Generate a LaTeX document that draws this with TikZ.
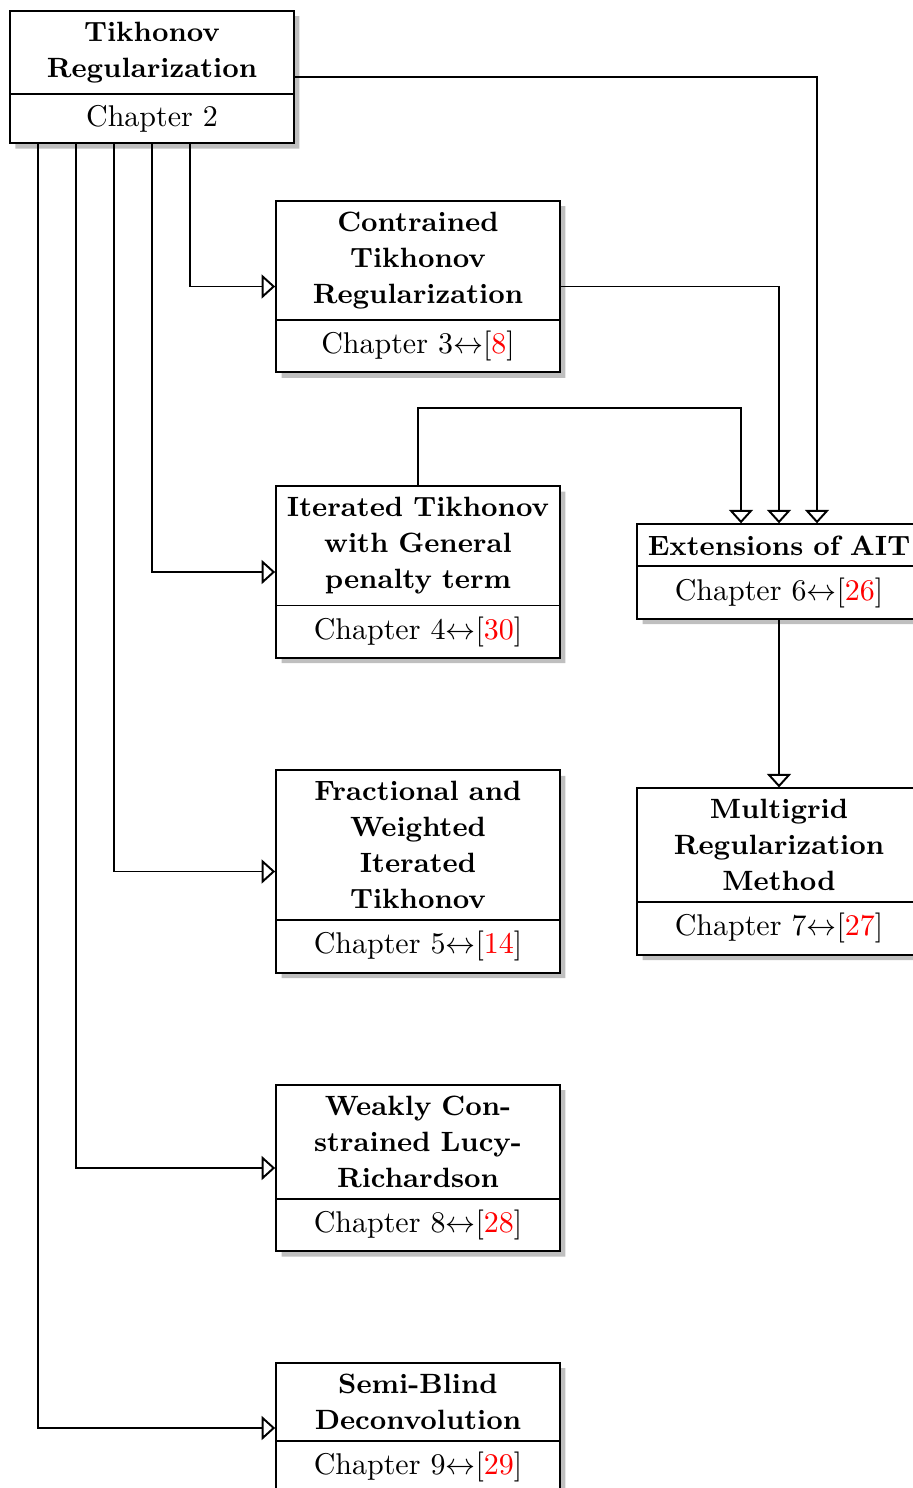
\documentclass[tikz,border=0pt]{standalone}
\usetikzlibrary{shapes.multipart,shadows,arrows.meta,calc}
\tikzset{
  chapbox/.style={rectangle split, rectangle split parts=2, draw, line width=0.65pt,
    fill=white, text width=90.6pt, align=center, inner xsep=2pt, inner ysep=3.4pt,
    drop shadow={shadow xshift=1.8pt, shadow yshift=-1.8pt, fill=black!25, opacity=1}},
  arr/.style={line width=0.65pt, -{Triangle[open, length=4.5pt, width=8pt]}},
}
\newcommand{\rc}[1]{$\leftrightarrow$[\textcolor{red}{#1}]}
\newcommand{\hd}{\fontsize{9.3}{12}\selectfont\bfseries}
\begin{document}
\begin{tikzpicture}[x={(0.33333pt,0)}, y={(0,-0.33333pt)}]
\useasboundingbox (0,0) rectangle (913,1488);
\clip (0,0) rectangle (913,1488);
\node[chapbox] (T) at (152,77) {\hd Tikhonov\\Regularization \nodepart{two} Chapter 2};
\node[chapbox] (C) at (418,286.5) {\hd Contrained\\Tikhonov\\Regularization \nodepart{two} Chapter 3\rc{8}};
\node[chapbox] (I) at (418,572) {\hd \mbox{Iterated Tikhonov}\\with General\\penalty term \nodepart{two} Chapter 4\rc{30}};
\node[chapbox] (F) at (418,871.5) {\hd Fractional and\\Weighted\\Iterated\\Tikhonov \nodepart{two} Chapter 5\rc{14}};
\node[chapbox] (W) at (418,1168) {\hd Weakly Con-\\strained Lucy-\\Richardson \nodepart{two} Chapter 8\rc{28}};
\node[chapbox] (S) at (418,1428) {\hd Semi-Blind\\Deconvolution \nodepart{two} Chapter 9\rc{29}};
\node[chapbox] (E) at (779,571.5) {\hd \mbox{Extensions of AIT} \nodepart{two} Chapter 6\rc{26}};
\node[chapbox] (M) at (779,871.5) {\hd Multigrid\\Regularization\\Method \nodepart{two} Chapter 7\rc{27}};
% to Extensions
\draw[arr] (T.east) -| ($(E.north)+(38,0)$);
\draw[arr] (C.east) -| (E.north);
\draw[arr] (I.north) -- ++(0,-77) -| ($(E.north)+(-38,0)$);
\draw[arr] (E.south) -- (M.north);
% from Tikhonov bottom
\draw[arr] ($(T.south)+(38,0)$) |- (C.west);
\draw[arr] (T.south) |- (I.west);
\draw[arr] ($(T.south)+(-38,0)$) |- (F.west);
\draw[arr] ($(T.south)+(-76,0)$) |- (W.west);
\draw[arr] ($(T.south)+(-114,0)$) |- (S.west);
\end{tikzpicture}
\end{document}
